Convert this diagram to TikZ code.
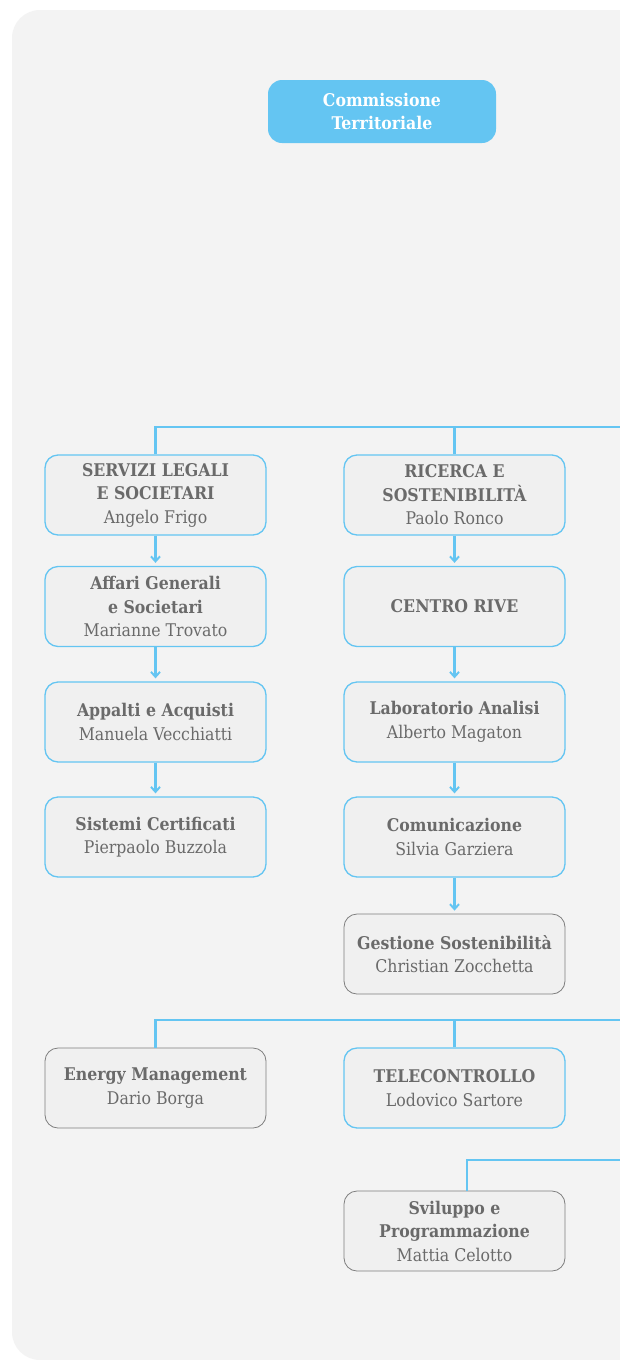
\documentclass[tikz,border=0pt]{standalone}
\usepackage{fontspec}
\setmainfont{DejaVu Serif Condensed}
\usetikzlibrary{arrows.meta}
\definecolor{bgc}{HTML}{F3F3F3}
\definecolor{boxc}{HTML}{F0F0F0}
\definecolor{bluec}{HTML}{64C5F2}
\definecolor{grayc}{HTML}{7E7E7E}
\definecolor{txtc}{HTML}{6A6A6A}
\tikzset{
  orgbox/.style={rounded corners=13pt, fill=boxc, draw=bluec, line width=1.3pt,
    minimum width=221pt, minimum height=80pt, align=center, text=txtc,
    inner sep=2pt, font=\fontsize{17.5}{23.5}\selectfont},
  graybox/.style={orgbox, draw=grayc, line width=0.8pt},
  topbox/.style={rounded corners=14pt, fill=bluec, draw=none,
    minimum width=228pt, minimum height=63pt, align=center, text=white,
    font=\fontsize{17.5}{23}\selectfont\bfseries},
  conn/.style={draw=bluec, line width=2.6pt},
  arr/.style={conn, -{Straight Barb[length=5pt,width=9pt,line width=2pt]}, shorten >=3pt}
}
\begin{document}
\begin{tikzpicture}[x=1pt,y=-1pt]
\useasboundingbox (0,0) rectangle (620,1360);
\fill[white] (0,0) rectangle (620,1360);
\fill[bgc, rounded corners=28pt] (12,10) rectangle (660,1360);
\fill[bgc] (40,1340) rectangle (660,1360);

\node[topbox] (ct) at (382,111.5) {Commissione\\Territoriale};

% left column
\node[orgbox] (sl) at (155.5,495) {\textbf{SERVIZI LEGALI}\\\textbf{E SOCIETARI}\\Angelo Frigo};
\node[orgbox] (ag) at (155.5,606.5) {\textbf{Affari Generali}\\\textbf{e Societari}\\Marianne Trovato};
\node[orgbox] (aa) at (155.5,722) {\textbf{Appalti e Acquisti}\\Manuela Vecchiatti};
\node[orgbox] (sc) at (155.5,837) {\textbf{Sistemi Certificati}\\Pierpaolo Buzzola};

% right column
\node[orgbox] (rs) at (454.5,495) {\textbf{RICERCA E}\\\textbf{SOSTENIBILITÀ}\\Paolo Ronco};
\node[orgbox] (cr) at (454.5,606.5) {\textbf{CENTRO RIVE}};
\node[orgbox] (la) at (454.5,722) {\textbf{Laboratorio Analisi}\\Alberto Magaton};
\node[orgbox] (co) at (454.5,837) {\textbf{Comunicazione}\\Silvia Garziera};
\node[graybox] (gs) at (454.5,954) {\textbf{Gestione Sostenibilità}\\Christian Zocchetta};

% second row
\node[graybox] (em) at (155.5,1088) {\textbf{Energy Management}\\Dario Borga};
\node[orgbox] (tc) at (454.5,1088) {\textbf{TELECONTROLLO}\\Lodovico Sartore};
\node[graybox] (sp) at (454.5,1231) {\textbf{Sviluppo e}\\\textbf{Programmazione}\\Mattia Celotto};

% buses
\coordinate (bus1) at (620,427);
\coordinate (bus2) at (620,1020);
\coordinate (bus3) at (620,1160);
\draw[conn] (sl.north) |- (bus1);
\draw[conn] (rs.north) -- (rs.north |- bus1);
\draw[conn] (em.north) |- (bus2);
\draw[conn] (tc.north) -- (tc.north |- bus2);
\draw[conn] ([xshift=12.5pt]sp.north) |- (bus3);

% arrows
\draw[arr] (sl.south) -- (ag.north);
\draw[arr] (ag.south) -- (aa.north);
\draw[arr] (aa.south) -- (sc.north);
\draw[arr] (rs.south) -- (cr.north);
\draw[arr] (cr.south) -- (la.north);
\draw[arr] (la.south) -- (co.north);
\draw[arr] (co.south) -- (gs.north);
\end{tikzpicture}
\end{document}
